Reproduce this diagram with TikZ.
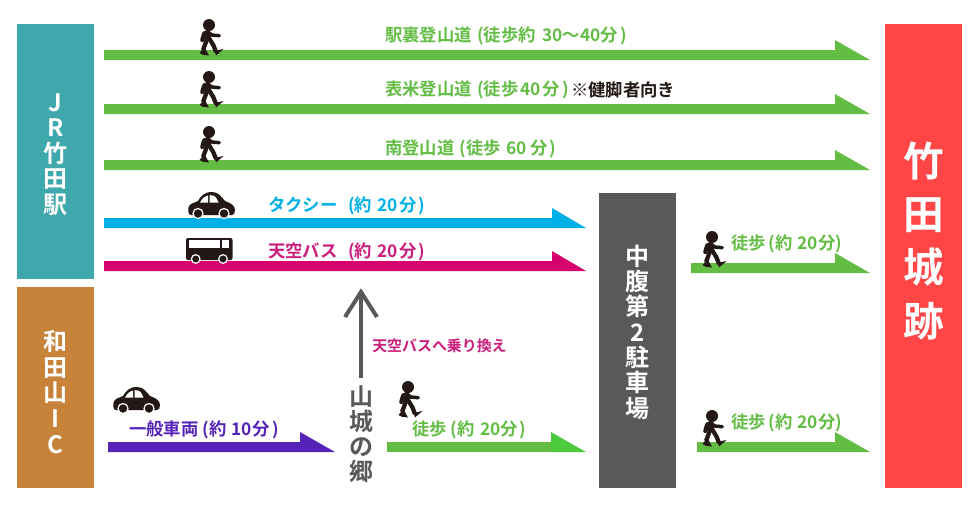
\documentclass[tikz,border=0pt]{standalone}
\usepackage{fontspec}
\usetikzlibrary{calc}
\setmainfont{Noto Sans CJK JP}[BoldFont={Noto Sans CJK JP Bold}]
\definecolor{cgreen}{HTML}{63BD45}
\definecolor{clight}{HTML}{4CCB3F}
\definecolor{ccyan}{HTML}{00B0E6}
\definecolor{cmag}{HTML}{D6006E}
\definecolor{ctmag}{HTML}{CB1E7C}
\definecolor{cpur}{HTML}{5523B8}
\definecolor{cteal}{HTML}{3EA8AC}
\definecolor{corange}{HTML}{C8833A}
\definecolor{cgrey}{HTML}{595959}
\definecolor{cred}{HTML}{FF4545}
\definecolor{cblack}{HTML}{231815}
\tikzset{
  x=0.75pt,y=-0.75pt,
  boxnode/.style={fill=#1,inner sep=0,anchor=north west,font=\bfseries,text=white,align=center},
  lab/.style={inner sep=0,anchor=west,font=\bfseries\fontsize{13}{15}\selectfont,text=#1},
  walker/.pic={
    \fill[cblack] (0,0) circle (6);
    \draw[cblack,line width=3.2pt,line cap=round,line join=round,fill=none]
      (-6.7,15) -- (-4.8,8.5) -- (-1,7) ;
    \draw[cblack,line width=2.6pt,line cap=round,line join=round,fill=none]
      (-1,7) -- (2.7,10) -- (10.3,10.7);
    \draw[cblack,line width=4.4pt,line join=round,fill=none] (-0.7,6.7) -- (-0.7,15);
    \draw[cblack,line width=3.2pt,line join=miter,fill=none] (-1.5,13) -- (-6,25);
    \draw[cblack,line width=3.2pt,line join=miter,fill=none] (0,13) -- (4.5,20.5) -- (7,27);
    \fill[cblack] (-9.5,28) -- (-4.5,22) -- (-2.5,26) -- (0,30.5) -- (-6,29.8) -- cycle;
    \fill[cblack] (4.5,22) -- (7.5,25.5) -- (14.5,24) -- (7,30.5) -- cycle;
  },
  carshape/.pic={
    \fill[cblack] (1,22) .. controls (-0.5,18) and (0,14) .. (3,12) .. controls (6,10.5) and (8,10) .. (10,9)
      .. controls (13,4) and (16,0) .. (24,0) .. controls (31,0) and (33,5) .. (37,9)
      .. controls (42,11) and (47,13) .. (47,18) .. controls (47,21) and (46,23) .. (44,23) -- (3,23) -- cycle;
    \fill[white] (12,10.5) .. controls (14,7) and (16,4.5) .. (20,3.5) -- (20,10.5) -- cycle;
    \fill[white] (21.5,3.2) .. controls (26,3) and (28,4) .. (30.5,10.5) -- (21.5,10.5) -- cycle;
    \draw[white,line width=0.9pt,fill=cblack] (10,21.5) circle (5);
    \draw[white,line width=0.9pt,fill=cblack] (36,21.5) circle (5);
  },
  busshape/.pic={
    \fill[cblack,rounded corners=1.5pt] (0,0) rectangle (46.5,22);
    \fill[white] (3.3,2) rectangle (34,10);
    \fill[white] (36,2) rectangle (43.3,10);
    \draw[white,line width=0.9pt,fill=cblack] (9.7,21) circle (4.3);
    \draw[white,line width=0.9pt,fill=cblack] (37,21) circle (4.3);
  },
}
% start coord, end coord, head length, colour
\newcommand{\flatarrow}[4]{%
  \fill[#4] (#1) -- ++(0,-10) -- ($(#2)+(-#3,-10)$) -- ++(0,-10) -- (#2) -- cycle;}
\begin{document}
\begin{tikzpicture}
\useasboundingbox (0,0) rectangle (980,507);
\fill[white] (0,0) rectangle (980,507);

% boxes
\node[boxnode=cteal,minimum width=77*0.75pt,minimum height=255*0.75pt] (jr) at (17,24) {};
\node[boxnode=corange,minimum width=77*0.75pt,minimum height=201*0.75pt] (ic) at (17,287) {};
\node[boxnode=cgrey,minimum width=77*0.75pt,minimum height=295*0.75pt] (mid) at (599,193) {};
\node[boxnode=cred,minimum width=77*0.75pt,minimum height=464*0.75pt] (castle) at (885,24) {};

\node[inner sep=0,text=white,align=center,font=\bfseries\fontsize{18}{19.2}\selectfont] (jrt) at (55.5,154.5) {J\\R\\竹\\田\\駅};
\node[inner sep=0,text=white,align=center,font=\bfseries\fontsize{18}{19.3}\selectfont] (ict) at (55.5,392) {和\\田\\山\\I\\C};
\node[inner sep=0,text=white,align=center,font=\bfseries\fontsize{30.5}{39.8}\selectfont] (cat) at (924,241) {竹\\田\\城\\跡};
\node[inner sep=0,text=white,align=center,font=\bfseries\fontsize{18}{19}\selectfont] (midt) at (637.5,332) {中\\腹\\第\\2\\駐\\車\\場};
\node[inner sep=0,text=cgrey,align=center,font=\bfseries\fontsize{18}{18.6}\selectfont] (yama) at (361,434) {山\\城\\の\\郷};

% arrow end points
\coordinate (s1) at (104,60);  \coordinate (e1) at (870,60);
\coordinate (s2) at (104,114); \coordinate (e2) at (870,114);
\coordinate (s3) at (104,170); \coordinate (e3) at (870,170);
\coordinate (s4) at (104,228); \coordinate (e4) at (586,228);
\coordinate (s5) at (104,271); \coordinate (e5) at (586,271);
\coordinate (s6) at (108,452); \coordinate (e6) at (335,452);
\coordinate (s7) at (387,452); \coordinate (e7) at (586,452);
\coordinate (s8) at (691,273); \coordinate (e8) at (870,273);
\coordinate (s9) at (697,452); \coordinate (e9) at (870,452);

\flatarrow{s1}{e1}{35}{cgreen}
\flatarrow{s2}{e2}{35}{cgreen}
\flatarrow{s3}{e3}{35}{cgreen}
\flatarrow{s4}{e4}{34}{ccyan}
\flatarrow{s5}{e5}{34}{cmag}
\flatarrow{s6}{e6}{35}{cpur}
\fill[clight] ($(e7)+(-35,-10)$) -- ++(0,-10) -- (e7) -- ($(e7)+(-35,0)$) -- cycle;
\fill[cgreen] (s7) -- ++(0,-10) -- ($(e7)+(-35,-10)$) -- ($(e7)+(-35,0)$) -- cycle;
\flatarrow{s8}{e8}{35}{cgreen}
\flatarrow{s9}{e9}{35}{cgreen}

% grey transfer arrow
\coordinate (tip) at (361,292);
\coordinate (wl) at (345,317);
\coordinate (wr) at (377,317);
\coordinate (up) at (361,378);
\draw[cgrey,line width=3pt] (up) -- (tip);
\draw[cgrey,line width=3pt,line join=miter] (wl) -- (tip) -- (wr);

% labels
\node[lab=cgreen] (l1) at (385,35.5) {駅裏登山道\hspace{4pt}(徒歩約\hspace{2pt} 30〜40分\hspace{2pt})};
\node[lab=cgreen] (l2) at (385,89.5) {表米登山道\hspace{4pt}(徒歩\hspace{1.5pt}40\hspace{1.5pt}分\hspace{1.5pt})};
\node[lab=cblack] (l2b) at (571,89.5) {※健脚者向き};
\node[lab=cgreen] (l3) at (385,148.5) {南登山道\hspace{4pt}(徒歩\hspace{1pt} 60 分\hspace{1pt})};
\node[lab=ccyan] (l4) at (268,205.5) {タクシー\hspace{8pt}(約\hspace{1pt} 20\hspace{1pt}分\hspace{1.5pt})};
\node[lab=ctmag] (l5) at (268,251.5) {天空バス\hspace{8pt}(約\hspace{1pt} 20\hspace{1pt}分\hspace{1.5pt})};
\node[lab=cpur] (l6) at (129,430) {一般車両\hspace{3pt}(約\hspace{1pt} 10分\hspace{2pt})};
\node[lab=cgreen] (l7) at (412,430) {徒歩\hspace{3pt}(約\hspace{1pt} 20分\hspace{1pt})};
\node[lab=cgreen] (l8) at (731,244) {徒歩\hspace{2pt}(約\hspace{1pt} 20分)};
\node[lab=cgreen] (l9) at (731,423) {徒歩\hspace{2pt}(約\hspace{1pt} 20分)};
\node[lab=ctmag,font=\bfseries\fontsize{11.2}{12}\selectfont] (l10) at (372,346) {天空バスへ乗り換え};

% icons
\pic at (209,25) {walker};
\pic at (209,77) {walker};
\pic at (209,132) {walker};
\pic at (408,387) {walker};
\pic at (712,237) {walker};
\pic at (712,416) {walker};
\pic at (188,192) {carshape};
\pic at (113,387) {carshape};
\pic at (186,238) {busshape};
\end{tikzpicture}
\end{document}
